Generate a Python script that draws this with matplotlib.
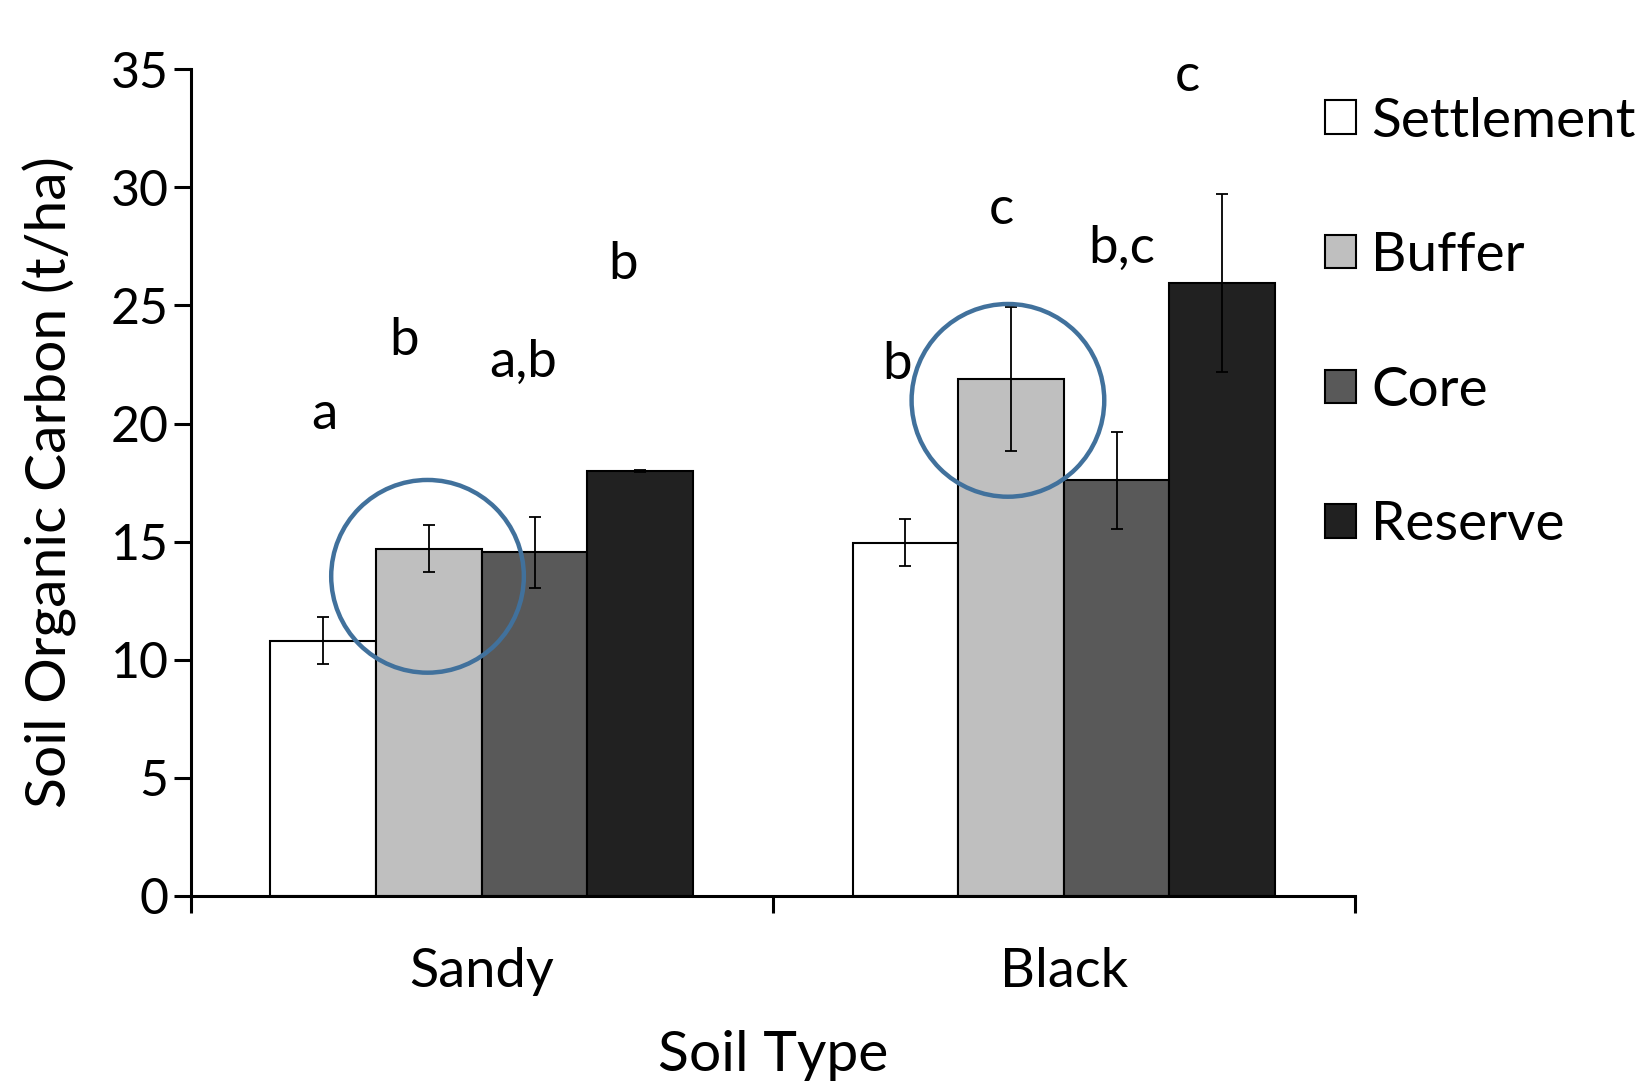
import matplotlib
matplotlib.use("Agg")
import matplotlib.pyplot as plt
import numpy as np
from matplotlib.patches import Ellipse

plt.rcParams['font.family'] = ['Lato', 'DejaVu Sans']

# data
soils = ['Sandy', 'Black']
zones = ['Settlement', 'Buffer', 'Core', 'Reserve']
soc = {
    'Settlement': [10.8, 14.95],
    'Buffer': [14.7, 21.9],
    'Core': [14.55, 17.6],
    'Reserve': [18.0, 25.95],
}
err = {
    'Settlement': [1.0, 1.0],
    'Buffer': [1.0, 3.05],
    'Core': [1.5, 2.05],
    'Reserve': [0.05, 3.75],
}
colors = ['#FFFFFF', '#BFBFBF', '#595959', '#212121']

# significance letters (text, x, y in data units)
letters = ['a', 'b', 'a,b', 'b', 'b', 'c', 'b,c', 'c']
letter_x = [0.230, 0.367, 0.571, 0.742, 1.213, 1.392, 1.599, 1.712]
letter_y = [20.4, 23.5, 22.6, 26.75, 22.5, 29.05, 27.4, 34.7]

fig = plt.figure(figsize=(16.43, 10.85), dpi=100)
ax = fig.add_axes([0.1161, 0.1743, 0.7085, 0.7619])

x = np.arange(len(soils)) + 0.5
w = 0.1815
for i, z in enumerate(zones):
    xi = x + (i - 1.5) * w
    ax.bar(xi, soc[z], w, color=colors[i], edgecolor='black', linewidth=1.5,
           label=z, zorder=2)
    ax.errorbar(xi, soc[z], yerr=err[z], fmt='none', ecolor='black',
                elinewidth=1.3, capsize=4.5, capthick=1.3, zorder=3)

for t, lx, ly in zip(letters, letter_x, letter_y):
    ax.text(lx, ly, t, ha='center', va='center', fontsize=38)

# highlight circles around the Buffer bars
for cx, cy in [(0.4068, 13.53), (1.404, 20.98)]:
    ax.add_patch(Ellipse((cx, cy), 0.331, 8.16, fill=False,
                         edgecolor='#41719C', linewidth=3.2, zorder=4,
                         clip_on=False))

ax.set_xlim(0, 2)
ax.set_ylim(0, 35)
ax.set_yticks(range(0, 36, 5))
ax.set_xticks([0, 1, 2])
ax.set_xticks(x, minor=True)
ax.set_xticklabels(['', '', ''])
ax.set_xticklabels(soils, minor=True, fontsize=39)
ax.tick_params(axis='x', which='minor', length=0, pad=37)
ax.tick_params(axis='x', which='major', length=12, width=2.2, direction='out')
ax.tick_params(axis='y', length=12, width=2.2, direction='out', labelsize=36, pad=4)

for s in ['top', 'right']:
    ax.spines[s].set_visible(False)
for s in ['left', 'bottom']:
    ax.spines[s].set_linewidth(2.2)

ax.set_ylabel('Soil Organic Carbon (t/ha)', fontsize=41, labelpad=24)
ax.set_xlabel('Soil Type', fontsize=41, labelpad=24)

fig.legend(loc='upper left', bbox_to_anchor=(0.8065, 0.911), frameon=False,
           fontsize=39.5, handlelength=0.56, handleheight=0.56,
           handletextpad=0.28, labelspacing=1.56, borderpad=0, borderaxespad=0)

fig.savefig('out.png', dpi=100)
